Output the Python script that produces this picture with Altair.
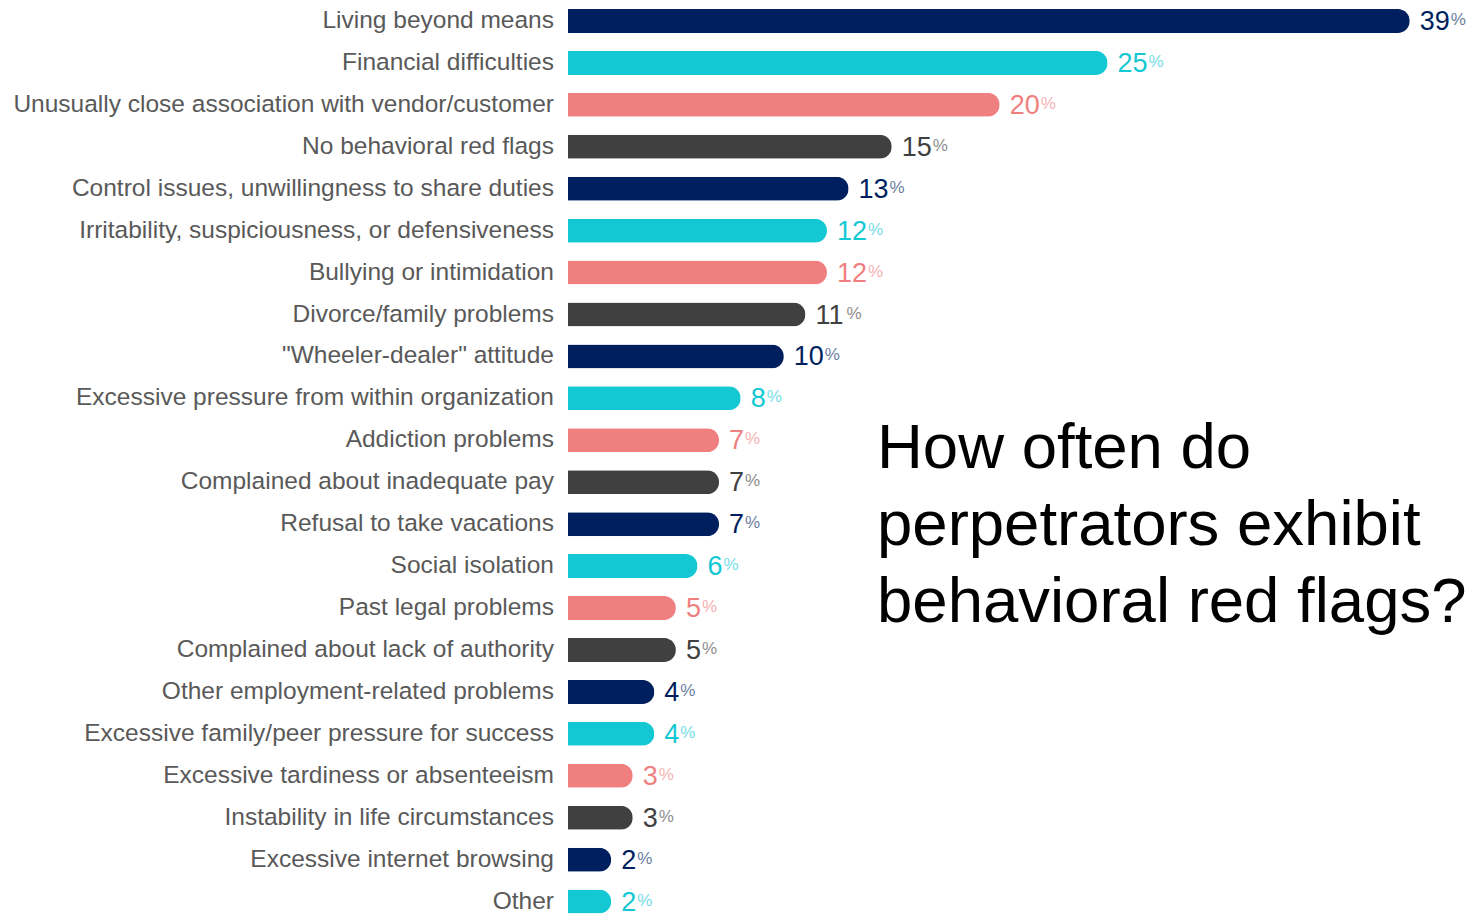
import altair as alt
import pandas as pd

labels = [
    "Living beyond means",
    "Financial difficulties",
    "Unusually close association with vendor/customer",
    "No behavioral red flags",
    "Control issues, unwillingness to share duties",
    "Irritability, suspiciousness, or defensiveness",
    "Bullying or intimidation",
    "Divorce/family problems",
    "\"Wheeler-dealer\" attitude",
    "Excessive pressure from within organization",
    "Addiction problems",
    "Complained about inadequate pay",
    "Refusal to take vacations",
    "Social isolation",
    "Past legal problems",
    "Complained about lack of authority",
    "Other employment-related problems",
    "Excessive family/peer pressure for success",
    "Excessive tardiness or absenteeism",
    "Instability in life circumstances",
    "Excessive internet browsing",
    "Other",
]
values = [39, 25, 20, 15, 13, 12, 12, 11, 10, 8, 7, 7, 7, 6, 5, 5, 4, 4, 3, 3, 2, 2]
palette = ["#001F5F", "#13C8D3", "#F08080", "#404040"]
title_text = "How often do\nperpetrators exhibit\nbehavioral red flags?"

df = pd.DataFrame({
    "label": labels,
    "value": values,
    "idx": list(range(len(labels))),
    "grp": [i % 4 for i in range(len(labels))],
})

sans = "Liberation Sans, Arial, sans-serif"

yenc = alt.Y("idx:Q", scale=alt.Scale(domain=[-0.5, 21.32], reverse=True, nice=False, zero=False, padding=0),
             axis=None)
xscale = alt.Scale(domain=[0, 41.7], nice=False, padding=0)
cenc = alt.Color("grp:N", scale=alt.Scale(domain=[0, 1, 2, 3], range=palette), legend=None)

base = alt.Chart(df).encode(y=yenc)

bars = base.mark_bar(size=24, cornerRadiusEnd=12, orient="horizontal").encode(
    x=alt.X("value:Q", scale=xscale, axis=None),
    color=cenc,
)

cat = base.mark_text(align="right", baseline="middle", dx=-14, font=sans,
                     fontSize=24.5, color="#595959").encode(
    x=alt.value(0), text="label:N"
)

nums = base.mark_text(align="left", baseline="middle", dx=10, dy=1, font=sans, fontSize=27).encode(
    x=alt.X("value:Q", scale=xscale, axis=None), text="value:Q", color=cenc
)

pct_common = dict(align="left", baseline="middle", dy=-1, font=sans, fontSize=17, opacity=0.6)
pct2 = base.transform_filter("datum.value >= 10").mark_text(dx=41, **pct_common).encode(
    x=alt.X("value:Q", scale=xscale, axis=None), text=alt.value("%"), color=cenc
)
pct1 = base.transform_filter("datum.value < 10").mark_text(dx=26, **pct_common).encode(
    x=alt.X("value:Q", scale=xscale, axis=None), text=alt.value("%"), color=cenc
)

title = alt.Chart(pd.DataFrame({"t": [title_text]})).mark_text(
    align="left", baseline="alphabetic", fontSize=63.5, font=sans,
    lineHeight=77, lineBreak="\n", color="black"
).encode(x=alt.value(309), y=alt.value(468), text="t:N")

chart = alt.layer(bars, cat, nums, pct2, pct1, title).properties(
    width=900, height=915,
    autosize=alt.AutoSizeParams(type="none"),
    padding={"left": 568, "top": 0, "right": 0, "bottom": 0},
).configure_view(stroke=None)

chart.save("out.html", embed_options={"renderer": "svg", "actions": False})
